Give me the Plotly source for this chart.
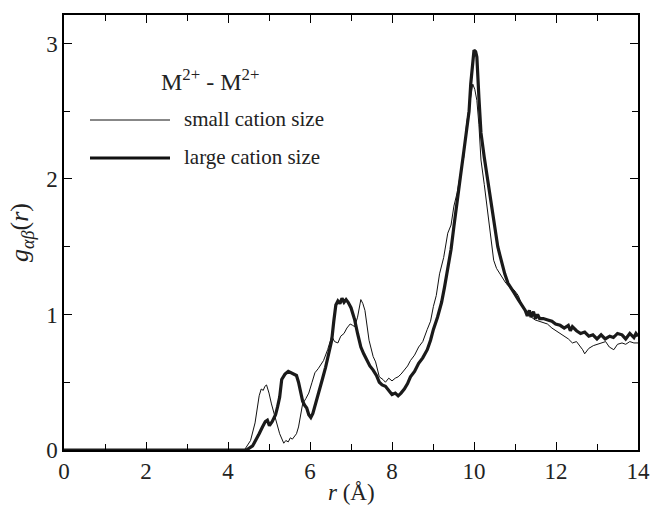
import plotly.graph_objects as go

# Data (r in Å, g(r))
r_small = [0.0, 4.40, 4.55, 4.66, 4.76, 4.81, 4.86, 4.90, 4.94, 5.00, 5.06, 5.16, 5.26, 5.36, 5.41, 5.47, 5.52, 5.57, 5.62, 5.67, 5.72, 5.82, 5.90, 5.97, 6.05, 6.12, 6.20, 6.33, 6.43, 6.53, 6.60, 6.68, 6.75, 6.83, 6.90, 6.98, 7.04, 7.09, 7.16, 7.24, 7.29, 7.34, 7.44, 7.54, 7.60, 7.69, 7.78, 7.84, 7.92, 8.00, 8.08, 8.15, 8.22, 8.30, 8.38, 8.45, 8.55, 8.65, 8.75, 8.86, 8.94, 9.01, 9.08, 9.16, 9.26, 9.36, 9.44, 9.51, 9.59, 9.67, 9.75, 9.82, 9.90, 9.97, 10.02, 10.07, 10.12, 10.17, 10.25, 10.32, 10.40, 10.48, 10.55, 10.63, 10.70, 10.78, 10.88, 10.98, 11.08, 11.18, 11.30, 11.40, 11.49, 11.60, 11.70, 11.79, 11.90, 12.00, 12.09, 12.20, 12.30, 12.40, 12.50, 12.60, 12.65, 12.70, 12.80, 12.91, 13.00, 13.10, 13.21, 13.30, 13.41, 13.50, 13.61, 13.70, 13.80, 13.90, 14.0]
g_small = [0.0, 0.0, 0.07, 0.20, 0.40, 0.45, 0.44, 0.47, 0.48, 0.42, 0.34, 0.22, 0.12, 0.05, 0.07, 0.06, 0.09, 0.08, 0.10, 0.12, 0.17, 0.34, 0.38, 0.42, 0.50, 0.57, 0.60, 0.66, 0.74, 0.84, 0.80, 0.79, 0.84, 0.86, 0.90, 0.93, 0.92, 0.91, 0.98, 1.11, 1.08, 1.03, 0.81, 0.69, 0.65, 0.54, 0.52, 0.50, 0.53, 0.51, 0.53, 0.54, 0.56, 0.59, 0.62, 0.66, 0.70, 0.76, 0.80, 0.89, 0.95, 1.06, 1.14, 1.30, 1.42, 1.60, 1.66, 1.80, 1.90, 2.04, 2.16, 2.41, 2.55, 2.70, 2.66, 2.58, 2.40, 2.14, 1.96, 1.80, 1.62, 1.40, 1.34, 1.30, 1.27, 1.23, 1.20, 1.18, 1.14, 1.06, 1.02, 0.98, 0.96, 0.95, 0.94, 0.93, 0.90, 0.88, 0.86, 0.84, 0.82, 0.79, 0.80, 0.76, 0.74, 0.71, 0.75, 0.77, 0.78, 0.79, 0.80, 0.76, 0.74, 0.78, 0.79, 0.78, 0.80, 0.79, 0.79]

r_large = [0.0, 4.45, 4.60, 4.68, 4.76, 4.84, 4.91, 4.96, 5.01, 5.08, 5.16, 5.21, 5.26, 5.31, 5.39, 5.47, 5.55, 5.62, 5.67, 5.72, 5.77, 5.82, 5.87, 5.92, 5.97, 6.02, 6.07, 6.15, 6.22, 6.30, 6.38, 6.45, 6.53, 6.58, 6.63, 6.68, 6.73, 6.78, 6.83, 6.88, 6.93, 7.00, 7.09, 7.16, 7.24, 7.31, 7.39, 7.46, 7.54, 7.62, 7.69, 7.76, 7.84, 7.92, 8.00, 8.08, 8.15, 8.22, 8.30, 8.38, 8.45, 8.55, 8.65, 8.75, 8.86, 8.94, 9.01, 9.11, 9.21, 9.28, 9.36, 9.44, 9.51, 9.59, 9.67, 9.75, 9.82, 9.88, 9.92, 9.96, 10.00, 10.04, 10.07, 10.12, 10.17, 10.25, 10.32, 10.40, 10.48, 10.53, 10.58, 10.63, 10.68, 10.75, 10.83, 10.90, 10.98, 11.08, 11.18, 11.25, 11.30, 11.35, 11.39, 11.45, 11.50, 11.55, 11.60, 11.69, 11.80, 11.90, 11.99, 12.10, 12.20, 12.30, 12.35, 12.40, 12.50, 12.60, 12.70, 12.80, 12.90, 13.00, 13.10, 13.20, 13.31, 13.40, 13.50, 13.61, 13.70, 13.80, 13.90, 13.95, 14.0]
g_large = [0.0, 0.0, 0.03, 0.07, 0.12, 0.17, 0.21, 0.22, 0.18, 0.21, 0.26, 0.32, 0.39, 0.52, 0.56, 0.58, 0.57, 0.56, 0.55, 0.50, 0.44, 0.36, 0.33, 0.31, 0.26, 0.24, 0.27, 0.35, 0.42, 0.52, 0.61, 0.71, 0.81, 0.95, 1.07, 1.10, 1.08, 1.12, 1.09, 1.11, 1.09, 1.05, 0.96, 0.86, 0.76, 0.71, 0.66, 0.62, 0.59, 0.55, 0.50, 0.48, 0.47, 0.44, 0.41, 0.42, 0.40, 0.42, 0.45, 0.49, 0.54, 0.58, 0.64, 0.68, 0.74, 0.81, 0.89, 0.98, 1.09, 1.20, 1.35, 1.48, 1.65, 1.85, 2.02, 2.20, 2.36, 2.50, 2.70, 2.85, 2.95, 2.94, 2.90, 2.60, 2.34, 2.16, 2.02, 1.86, 1.72, 1.62, 1.50, 1.44, 1.38, 1.30, 1.23, 1.20, 1.16, 1.11, 1.06, 1.03, 0.99, 1.03, 0.98, 1.02, 0.97, 1.00, 0.97, 0.97, 0.96, 0.95, 0.93, 0.92, 0.90, 0.92, 0.88, 0.91, 0.88, 0.86, 0.87, 0.84, 0.85, 0.82, 0.85, 0.82, 0.84, 0.83, 0.86, 0.85, 0.82, 0.86, 0.83, 0.86, 0.84]

x_tickvals = [0, 2, 4, 6, 8, 10, 12, 14]
y_tickvals = [0, 1, 2, 3]

FONT = "Liberation Serif, Times New Roman, serif"

fig = go.Figure()
fig.add_trace(go.Scatter(x=r_small, y=g_small, mode="lines",
                         line=dict(color="#111111", width=1), showlegend=False))
fig.add_trace(go.Scatter(x=r_large, y=g_large, mode="lines",
                         line=dict(color="#1a1a1a", width=3.2), showlegend=False))

axis_common = dict(showline=True, linecolor="black", linewidth=1.5, mirror="allticks",
                   ticks="inside", ticklen=8, tickwidth=1.3, tickcolor="black",
                   showgrid=False, zeroline=False, automargin=False,
                   tickfont=dict(family=FONT, size=23, color="#222"))

fig.update_xaxes(range=[0, 14], tickvals=x_tickvals,
                 minor=dict(dtick=1, ticks="inside", ticklen=6, tickwidth=1.3, tickcolor="black"),
                 **axis_common)
fig.update_yaxes(range=[0, 3.21], tickvals=y_tickvals,
                 minor=dict(dtick=0.5, ticks="inside", ticklen=6, tickwidth=1.3, tickcolor="black"),
                 title=dict(text="<i>g</i><sub><i>αβ</i></sub>(<i>r</i>)", font=dict(family=FONT, size=26, color="#222"), standoff=10),
                 **axis_common)

# x-axis title (placed as annotation to match the reference position)
fig.add_annotation(xref="paper", yref="paper", x=0.5, y=(450-493)/435, xanchor="center",
                   yanchor="middle", showarrow=False, text="<i>r</i> (Å)",
                   font=dict(family=FONT, size=23, color="#222"))

# legend drawn manually
fig.add_shape(type="line", xref="paper", yref="paper", x0=(90-64)/574, x1=(170-64)/574,
              y0=(450-120)/435, y1=(450-120)/435, line=dict(color="#111", width=1))
fig.add_shape(type="line", xref="paper", yref="paper", x0=(90-64)/574, x1=(170-64)/574,
              y0=(450-158)/435, y1=(450-158)/435, line=dict(color="#111", width=3.2))
fig.add_annotation(xref="paper", yref="paper", x=(182-64)/574, y=(450-119)/435, xanchor="left",
                   yanchor="middle", showarrow=False, text="small cation size",
                   font=dict(family=FONT, size=21, color="#222"))
fig.add_annotation(xref="paper", yref="paper", x=(182-64)/574, y=(450-157)/435, xanchor="left",
                   yanchor="middle", showarrow=False, text="large cation size",
                   font=dict(family=FONT, size=21, color="#222"))
fig.add_annotation(xref="paper", yref="paper", x=(159-64)/574, y=(450-80)/435, xanchor="left",
                   yanchor="middle", showarrow=False, text="M<sup>2+</sup> - M<sup>2+</sup>",
                   font=dict(family=FONT, size=24, color="#222"))

fig.update_layout(width=650, height=506, margin=dict(l=64, r=12, t=15, b=56),
                  paper_bgcolor="white", plot_bgcolor="white",
                  font=dict(family=FONT, color="#222"))

fig.write_html("out.html")
